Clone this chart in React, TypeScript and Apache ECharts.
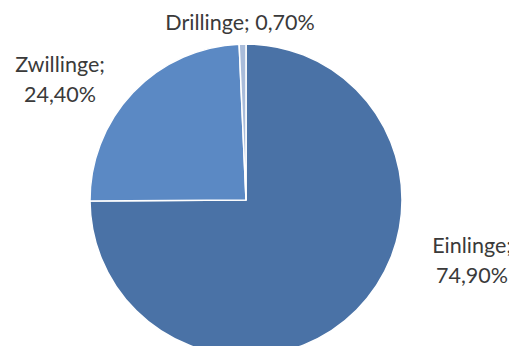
import React, { useEffect, useRef } from "react";
import * as echarts from "echarts";

const categories = ["Einlinge", "Zwillinge", "Drillinge"];
const values = [74.9, 24.4, 0.7];
const valueLabels = ["74,90%", "24,40%", "0,70%"];

const colors = ["#4A72A6", "#5B89C4", "#A9BCDA"];
const labelPos = [
  { x: 472, y: 260, multiline: true },
  { x: 60, y: 79, multiline: true },
  { x: 240, y: 22, multiline: false },
];

export default function App() {
  const ref = useRef<HTMLDivElement>(null);
  useEffect(() => {
    if (!ref.current) return;
    const chart = echarts.init(ref.current, null, { renderer: "svg" });
    chart.setOption({
      animation: false,
      backgroundColor: "#ffffff",
      series: [
        {
          type: "pie",
          center: [246, 200],
          radius: [0, 156],
          startAngle: 90,
          clockwise: true,
          avoidLabelOverlap: false,
          itemStyle: { borderColor: "#ffffff", borderWidth: 1.5 },
          label: {
            show: true,
            position: "outside",
            fontFamily: "Lato",
            fontSize: 21.5,
            color: "#3a3a3a",
            lineHeight: 30,
            align: "center",
            formatter: (p: any) =>
              labelPos[p.dataIndex].multiline
                ? `${p.name};\n${valueLabels[p.dataIndex]}`
                : `${p.name}; ${valueLabels[p.dataIndex]}`,
          },
          labelLine: { show: false },
          labelLayout: (p: any) => ({
            x: labelPos[p.dataIndex].x,
            y: labelPos[p.dataIndex].y,
            align: "center",
            verticalAlign: "middle",
          }),
          data: categories.map((c, i) => ({
            name: c,
            value: values[i],
            itemStyle: { color: colors[i] },
          })),
        },
      ],
    });
    return () => chart.dispose();
  }, []);
  return <div ref={ref} style={{ width: 517, height: 354, margin: -8 }} />;
}
